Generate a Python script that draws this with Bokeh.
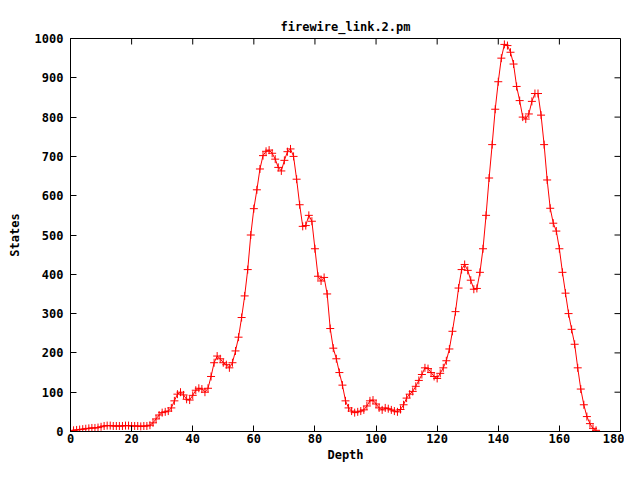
from bokeh.plotting import figure
from bokeh.models import FixedTicker, Range1d, ColumnDataSource
from bokeh.embed import file_html
from bokeh.resources import INLINE

title_text = "firewire_link.2.pm"
x_label = "Depth"
y_label = "States"
x_ticks = [0, 20, 40, 60, 80, 100, 120, 140, 160, 180]
y_ticks = [0, 100, 200, 300, 400, 500, 600, 700, 800, 900, 1000]
x_min, x_max = 0, 180
y_min, y_max = 0, 1000

depth = [
    0, 1, 2, 3, 4, 5, 6, 7, 8, 9, 10, 11, 12, 13, 14, 15, 16, 17, 18, 19,
    20, 21, 22, 23, 24, 25, 26, 27, 28, 29, 30, 31, 32, 33, 34, 35, 36, 37, 38, 39,
    40, 41, 42, 43, 44, 45, 46, 47, 48, 49, 50, 51, 52, 53, 54, 55, 56, 57, 58, 59,
    60, 61, 62, 63, 64, 65, 66, 67, 68, 69, 70, 71, 72, 73, 74, 75, 76, 77, 78, 79,
    80, 81, 82, 83, 84, 85, 86, 87, 88, 89, 90, 91, 92, 93, 94, 95, 96, 97, 98, 99,
    100, 101, 102, 103, 104, 105, 106, 107, 108, 109, 110, 111, 112, 113, 114, 115, 116, 117, 118, 119,
    120, 121, 122, 123, 124, 125, 126, 127, 128, 129, 130, 131, 132, 133, 134, 135, 136, 137, 138, 139,
    140, 141, 142, 143, 144, 145, 146, 147, 148, 149, 150, 151, 152, 153, 154, 155, 156, 157, 158, 159,
    160, 161, 162, 163, 164, 165, 166, 167, 168, 169, 170, 171, 172,
]

states = [
    2, 3, 4, 5, 6, 7, 8, 9, 9, 10, 12,
    14, 15, 15, 14, 14, 14, 14, 15, 15, 14, 14, 14, 13, 14, 14, 16,
    22, 32, 42, 48,
    50, 52, 60, 78, 95,
    100, 93, 82, 80, 92,
    105, 110, 108, 100, 110,
    140, 175, 192, 185, 175,
    170, 162, 175, 205, 240,
    290, 345, 412, 500, 567,
    615, 668, 702, 713, 716,
    708, 693, 672, 663, 690,
    712, 719, 700, 642, 577,
    522, 524, 550, 535, 465,
    395, 383, 392, 350, 262,
    212, 185, 150, 118, 78,
    60, 52, 48, 50, 52,
    55, 65, 78, 80, 70,
    60, 55, 60, 58, 55,
    52, 50, 56, 68, 85,
    95, 102, 115, 130, 145,
    162, 160, 150, 140, 135,
    148, 162, 180, 210, 255,
    305, 365, 412, 425, 410,
    385, 362, 364, 405, 465,
    550, 645, 730, 820, 890,
    950, 985, 982, 965, 935,
    878, 842, 800, 795, 808,
    840, 860, 860, 805, 730,
    640, 568, 530, 510, 465,
    405, 352, 300, 260, 222,
    162, 108, 68, 38, 20,
    8, 3,
]

FONT = "DejaVu Sans Mono"
FS = "12px"

W, H = 624, 464
BL, BR, BT, BB = 70, 4, 38, 33
TICK = 6  # px

source = ColumnDataSource(data=dict(depth=depth, states=states))

p = figure(width=W, height=H, x_range=Range1d(x_min, x_max), y_range=Range1d(y_min, y_max),
           output_backend="svg", toolbar_location=None, title=title_text)
p.min_border_left = BL
p.min_border_right = BR
p.min_border_top = BT
p.min_border_bottom = BB
p.background_fill_color = "white"
p.border_fill_color = "white"
p.outline_line_color = "black"
p.outline_line_width = 1
p.grid.visible = False

p.title.align = "center"
p.title.text_font = FONT
p.title.text_font_style = "bold"
p.title.text_font_size = FS
p.title.text_color = "black"

for ax in (p.xaxis[0], p.yaxis[0]):
    ax.major_tick_in = TICK
    ax.major_tick_out = 0
    ax.minor_tick_line_color = None
    ax.axis_line_color = "black"
    ax.major_tick_line_color = "black"
    ax.major_label_text_font = FONT
    ax.major_label_text_font_style = "bold"
    ax.major_label_text_font_size = FS
    ax.major_label_text_color = "black"
    ax.axis_label_text_font = FONT
    ax.axis_label_text_font_style = "bold"
    ax.axis_label_text_font_size = FS
    ax.axis_label_text_color = "black"

p.xaxis[0].ticker = FixedTicker(ticks=x_ticks)
p.yaxis[0].ticker = FixedTicker(ticks=y_ticks)
p.xaxis[0].axis_label = x_label
p.yaxis[0].axis_label = y_label
p.xaxis[0].major_label_standoff = 2
p.xaxis[0].axis_label_standoff = 2
p.yaxis[0].major_label_standoff = 7
p.yaxis[0].axis_label_standoff = 10

# mirrored inward ticks on the top and right edges (lengths converted from px)
frame_w = W - BL - BR
frame_h = H - BT - BB
dy = TICK * (y_max - y_min) / frame_h
dx = TICK * (x_max - x_min) / frame_w
p.segment(x0=x_ticks, y0=[y_max] * len(x_ticks), x1=x_ticks, y1=[y_max - dy] * len(x_ticks),
          line_color="black", line_width=1)
p.segment(x0=[x_max] * len(y_ticks), y0=y_ticks, x1=[x_max - dx] * len(y_ticks), y1=y_ticks,
          line_color="black", line_width=1)

p.line("depth", "states", source=source, line_color="#ff0000", line_width=1)
p.scatter("depth", "states", source=source, marker="cross", size=8,
          line_color="#ff0000", line_width=1)

open("out.html", "w").write(file_html(p, INLINE))
